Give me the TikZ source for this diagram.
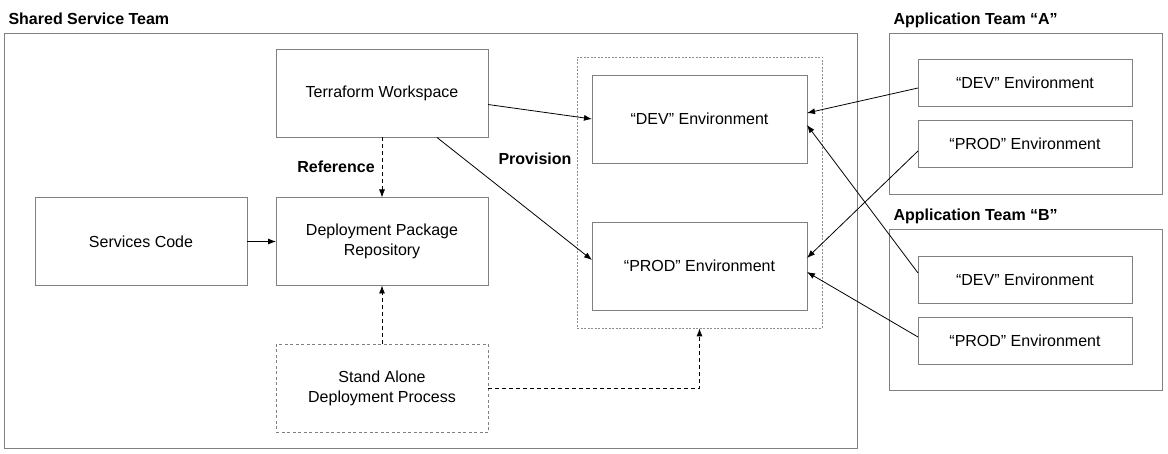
\documentclass[tikz,border=0pt]{standalone}
\usepackage{fontspec}
\setmainfont{Liberation Sans}
\usepackage{tikz}
\usetikzlibrary{arrows.meta,positioning,calc,fit}
\definecolor{borde}{RGB}{128,128,128}
\definecolor{punteado}{RGB}{140,140,140}

\begin{document}
\begin{tikzpicture}[x=1pt,y=-1pt,
base/.style={font=\fontsize{16}{19.5}\selectfont,align=center,inner sep=0pt,outer sep=0pt},
caja/.style={base,draw=borde,line width=0.9pt,fill=white,minimum width=212pt,minimum height=88pt},
envbox/.style={caja,minimum width=215pt,minimum height=88pt},
appenv/.style={caja,minimum width=214pt,minimum height=47pt},
caja dash/.style={caja,dash pattern=on 3pt off 2.5pt},
grupo/.style={draw=punteado,line width=0.7pt,dash pattern=on 2pt off 1.5pt,inner xsep=15pt,inner ysep=18pt},
equipo/.style={draw=borde,line width=0.9pt},
titulo/.style={base,font=\fontsize{16}{19.5}\selectfont\bfseries,anchor=base west},
lbl/.style={base,font=\fontsize{16}{19.5}\selectfont\bfseries},
arr/.style={-{Latex[length=8pt,width=6pt]},line width=0.8pt},
darr/.style={arr,dash pattern=on 4pt off 3pt}
]
\useasboundingbox (0,0) rectangle (1168,454);

\node[equipo,minimum width=853pt,minimum height=415pt] (shared) at (430.5,240.5) {};
\node[titulo] at ([xshift=5pt,yshift=8.5pt]shared.north west) {Shared Service Team};
\node[equipo,minimum width=273pt,minimum height=161pt] (teama) at (1025.5,113.5) {};
\node[titulo] at ([xshift=5pt,yshift=8.5pt]teama.north west) {Application Team “A”};
\node[equipo,minimum width=273pt,minimum height=161pt] (teamb) at (1025.5,309.5) {};
\node[titulo] at ([xshift=5pt,yshift=8.5pt]teamb.north west) {Application Team “B”};

\node[caja] (terraform) at (382,93.5) {Terraform Workspace};
\node[caja,below=60pt of terraform] (repo) {Deployment Package\\Repository};
\node[caja,left=29pt of repo] (services) {Services Code};
\node[caja dash,below=59pt of repo] (standalone) {Stand Alone\\Deployment Process};

\node[envbox] (devenv) at (699.5,119) {“DEV” Environment};
\node[envbox,below=59pt of devenv] (prodenv) {“PROD” Environment};
\node[grupo,fit=(devenv)(prodenv)] (envs) {};

\node[appenv] (adev) at (1025,83) {“DEV” Environment};
\node[appenv,below=14pt of adev] (aprod) {“PROD” Environment};
\node[appenv] (bdev) at (1025,280) {“DEV” Environment};
\node[appenv,below=14pt of bdev] (bprod) {“PROD” Environment};

\node[lbl] (reflbl) at (336,167) {Reference};
\node[lbl] (provlbl) at (535,159) {Provision};

\draw[arr] ([yshift=-11pt]terraform.east) -- (devenv.west);
\draw[arr] ([xshift=55pt]terraform.south) -- ([yshift=6pt]prodenv.west);
\draw[darr] (terraform.south) -- (repo.north);
\draw[arr] (services.east) -- (repo.west);
\draw[darr] (standalone.north) -- (repo.south);
\draw[darr] (standalone.east) -| (envs.south);

\draw[arr] ([yshift=-5pt]adev.west) -- ([yshift=6pt]devenv.east);
\draw[arr] ([yshift=-7pt]aprod.west) -- ([yshift=8pt]prodenv.east);
\draw[arr] ([yshift=7pt]bdev.west) -- ([yshift=-6pt]devenv.east);
\draw[arr] ([yshift=4pt]bprod.west) -- ([yshift=-6pt]prodenv.east);
\end{tikzpicture}
\end{document}
